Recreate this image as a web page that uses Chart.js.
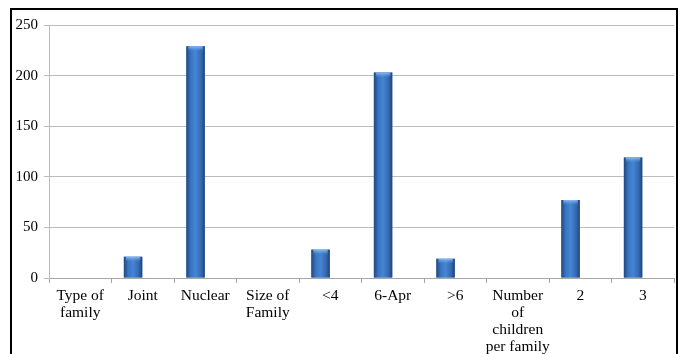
<!DOCTYPE html>
<html>
<head>
<meta charset="utf-8">
<script src="https://cdn.jsdelivr.net/npm/chart.js@4/dist/chart.umd.min.js"></script>
<style>
  html, body { margin: 0; padding: 0; background: #fff; }
  #wrap { position: relative; width: 685px; height: 354px; }
  #frame {
    position: absolute; left: 10px; top: 8px; width: 664px; height: 360px;
    border: 2px solid #000; pointer-events: none;
  }
</style>
</head>
<body>
<div id="wrap">
  <canvas id="barChart" width="685" height="354"></canvas>
  <div id="frame"></div>
</div>
<script>
// Catégories (avec les en-têtes de groupe) et effectifs
const categories = [
  ['Type of', 'family'], 'Joint', 'Nuclear', ['Size of', 'Family'],
  '<4', '6-Apr', '>6', ['Number', 'of', 'children', 'per family'], '2', '3'
];
const counts = [0, 21, 229, 0, 28, 203, 19, 0, 77, 119];
// deuxième série vide (garde la place à droite de chaque barre)
const emptySeries = [null, null, null, null, null, null, null, null, null, null];
const yTicks = [0, 50, 100, 150, 200, 250];

// Remplissage des barres en dégradé horizontal (effet cylindre)
const bevelBars = {
  id: 'bevelBars',
  afterDatasetsDraw(chart) {
    const ctx = chart.ctx;
    chart.getDatasetMeta(0).data.forEach(bar => {
      const h = bar.base - bar.y;
      if (h <= 0) return;
      const x0 = bar.x - bar.width / 2;
      const x1 = bar.x + bar.width / 2;
      const g = ctx.createLinearGradient(x0, 0, x1, 0);
      g.addColorStop(0, '#21487f');
      g.addColorStop(0.25, '#3a76c2');
      g.addColorStop(0.5, '#4585d3');
      g.addColorStop(0.8, '#3569b0');
      g.addColorStop(1, '#1f4478');
      ctx.save();
      ctx.fillStyle = g;
      ctx.fillRect(x0, bar.y, bar.width, h);
      // petit chapeau clair en haut
      const cap = Math.min(5, h);
      const gc = ctx.createLinearGradient(0, bar.y, 0, bar.y + cap);
      gc.addColorStop(0, 'rgba(150,195,245,0.9)');
      gc.addColorStop(1, 'rgba(90,150,225,0)');
      ctx.fillStyle = gc;
      ctx.fillRect(x0 + 2, bar.y, bar.width - 4, cap);
      ctx.restore();
    });
  }
};

const ctx = document.getElementById('barChart').getContext('2d');
new Chart(ctx, {
  type: 'bar',
  data: {
    labels: categories,
    datasets: [{
      data: counts,
      backgroundColor: '#3a76c2',
      barPercentage: 0.95,
      categoryPercentage: 0.62
    }, {
      data: emptySeries,
      backgroundColor: 'rgba(0,0,0,0)',
      barPercentage: 0.95,
      categoryPercentage: 0.62
    }]
  },
  plugins: [bevelBars],
  options: {
    responsive: false,
    animation: false,
    layout: { padding: { left: 0, right: 11, top: 25, bottom: 0 } },
    plugins: { legend: { display: false }, tooltip: { enabled: false } },
    scales: {
      x: {
        grid: {
          offset: true,
          drawOnChartArea: false,
          tickLength: 5,
          color: '#a6a6a6'
        },
        border: { color: '#a6a6a6' },
        ticks: {
          color: '#000',
          padding: 5,
          maxRotation: 0,
          autoSkip: false,
          font: { family: 'Liberation Serif', size: 15.5, lineHeight: 1.08 }
        },
        afterFit(axis) { axis.height = 76; }
      },
      y: {
        min: 0,
        max: 250,
        afterBuildTicks(axis) { axis.ticks = yTicks.map(v => ({ value: v })); },
        grid: { color: '#bcbcbc', tickLength: 5 },
        border: { color: '#bcbcbc' },
        ticks: {
          color: '#000',
          padding: 6,
          font: { family: 'Liberation Serif', size: 15 }
        },
        afterFit(axis) { axis.width = 49; }
      }
    }
  }
});
</script>
</body>
</html>
